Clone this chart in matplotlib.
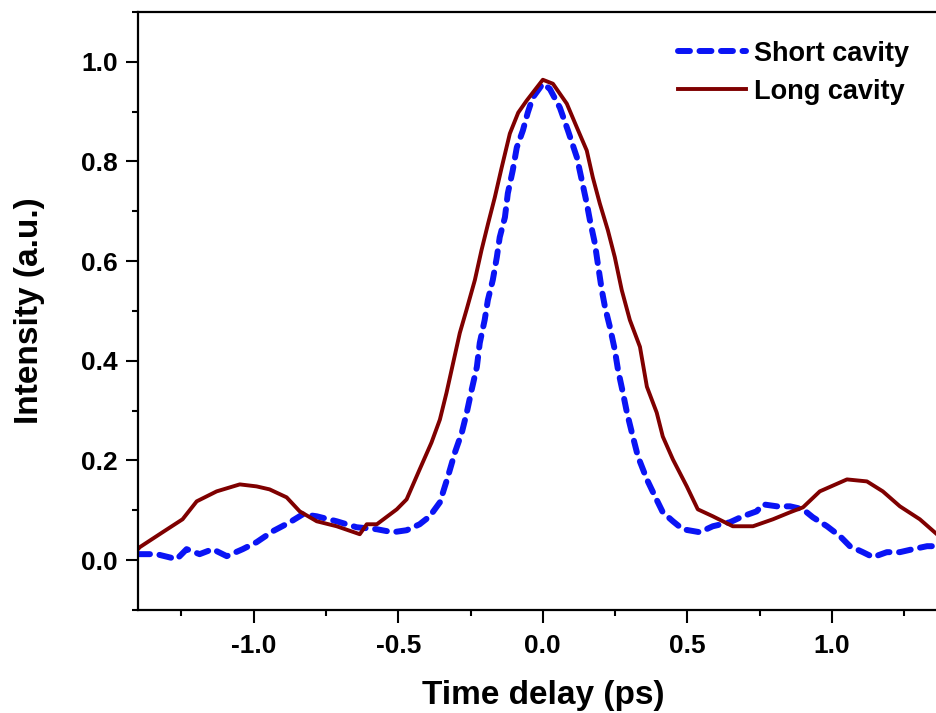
import matplotlib
matplotlib.use("Agg")
import matplotlib.pyplot as plt
from matplotlib.ticker import MultipleLocator, FormatStrFormatter

plt.rcParams['font.family'] = ['Liberation Sans', 'DejaVu Sans']
plt.rcParams['font.weight'] = 'bold'
plt.rcParams['axes.unicode_minus'] = False

# long cavity trace
long_t = [-1.40, -1.394, -1.315, -1.246, -1.197, -1.128, -1.048, -0.990, -0.945, -0.886,
          -0.841, -0.782, -0.713, -0.633, -0.609, -0.574, -0.505, -0.471, -0.426, -0.385,
          -0.356, -0.333, -0.310, -0.287, -0.264, -0.235, -0.212, -0.189, -0.166, -0.143,
          -0.114, -0.085, -0.056, 0.000, 0.035, 0.083, 0.118, 0.152, 0.173, 0.197,
          0.225, 0.249, 0.273, 0.301, 0.336, 0.360, 0.394, 0.415, 0.450, 0.498,
          0.536, 0.588, 0.657, 0.727, 0.796, 0.855, 0.900, 0.958, 1.052, 1.121,
          1.176, 1.235, 1.304, 1.363, 1.40]
long_i = [0.022, 0.026, 0.056, 0.082, 0.118, 0.138, 0.152, 0.148, 0.142, 0.126,
          0.098, 0.078, 0.068, 0.052, 0.072, 0.072, 0.102, 0.122, 0.182, 0.236,
          0.282, 0.336, 0.396, 0.456, 0.502, 0.562, 0.622, 0.676, 0.728, 0.786,
          0.856, 0.898, 0.922, 0.964, 0.956, 0.916, 0.868, 0.822, 0.768, 0.716,
          0.662, 0.608, 0.542, 0.482, 0.428, 0.348, 0.296, 0.248, 0.202, 0.148,
          0.102, 0.088, 0.068, 0.068, 0.082, 0.096, 0.106, 0.138, 0.162, 0.158,
          0.138, 0.108, 0.082, 0.052, 0.042]

# short cavity trace
short_t = [-1.40, -1.394, -1.336, -1.266, -1.232, -1.187, -1.142, -1.093, -1.038, -0.990,
           -0.934, -0.875, -0.830, -0.782, -0.713, -0.644, -0.574, -0.519, -0.471, -0.426,
           -0.391, -0.356, -0.329, -0.304, -0.280, -0.263, -0.246, -0.228, -0.218, -0.201,
           -0.190, -0.173, -0.159, -0.149, -0.131, -0.121, -0.104, -0.090, -0.069, -0.052,
           -0.035, 0.000, 0.024, 0.059, 0.087, 0.118, 0.135, 0.152, 0.163, 0.180,
           0.190, 0.204, 0.215, 0.232, 0.249, 0.260, 0.277, 0.291, 0.308, 0.329,
           0.360, 0.388, 0.415, 0.450, 0.484, 0.543, 0.588, 0.647, 0.692, 0.740,
           0.761, 0.810, 0.855, 0.900, 0.934, 0.983, 1.028, 1.062, 1.107, 1.142,
           1.190, 1.235, 1.280, 1.329, 1.363, 1.40]
short_i = [0.012, 0.012, 0.012, 0.002, 0.022, 0.012, 0.022, 0.008, 0.022, 0.036,
           0.058, 0.076, 0.092, 0.088, 0.078, 0.066, 0.062, 0.056, 0.060, 0.072,
           0.088, 0.116, 0.166, 0.216, 0.256, 0.296, 0.342, 0.388, 0.436, 0.482,
           0.522, 0.562, 0.608, 0.648, 0.688, 0.736, 0.782, 0.828, 0.862, 0.898,
           0.928, 0.956, 0.946, 0.908, 0.862, 0.808, 0.762, 0.716, 0.682, 0.636,
           0.596, 0.542, 0.508, 0.468, 0.422, 0.382, 0.336, 0.296, 0.256, 0.208,
           0.162, 0.128, 0.096, 0.078, 0.062, 0.056, 0.068, 0.076, 0.088, 0.098,
           0.112, 0.108, 0.108, 0.102, 0.086, 0.068, 0.048, 0.028, 0.016, 0.006,
           0.016, 0.016, 0.022, 0.028, 0.028, 0.030]

fig = plt.figure(figsize=(9.37, 7.13), dpi=100)
# right part of the frame is cut off in the original picture
ax = fig.add_axes([0.1473, 0.1445, 0.864, 0.8387])

ax.plot(short_t, short_i, color='#0a14f5', lw=4.3, ls=(0, (2.0, 1.6)),
        dash_capstyle='round', label='Short cavity')
ax.plot(long_t, long_i, color='#7f0000', lw=2.8, label='Long cavity')

ax.set_xlim(-1.4, 1.4)
ax.set_ylim(-0.1, 1.1)
ax.xaxis.set_major_locator(MultipleLocator(0.5))
ax.xaxis.set_minor_locator(MultipleLocator(0.25))
ax.yaxis.set_major_locator(MultipleLocator(0.2))
ax.yaxis.set_minor_locator(MultipleLocator(0.1))
ax.xaxis.set_major_formatter(FormatStrFormatter('%.1f'))
ax.yaxis.set_major_formatter(FormatStrFormatter('%.1f'))

for s in ax.spines.values():
    s.set_linewidth(1.6)
ax.tick_params(which='both', direction='out', width=1.5, labelsize=19,
               top=False, right=False)
ax.tick_params(which='major', length=8.5, pad=6)
ax.tick_params(which='minor', length=4.5)
ax.tick_params(axis='x', which='major', length=9.5, pad=8)

ax.set_xlabel('Time delay (ps)', fontsize=24, fontweight='bold', labelpad=16)
ax.set_ylabel('Intensity (a.u.)', fontsize=24, fontweight='bold', labelpad=26)

ax.legend(loc='upper left', bbox_to_anchor=(0.7236, 0.943), bbox_transform=fig.transFigure,
          frameon=False, fontsize=19.5, handlelength=2.5, handletextpad=0.3,
          borderpad=0, borderaxespad=0, labelspacing=0.45)

fig.savefig('out.png', dpi=100)
